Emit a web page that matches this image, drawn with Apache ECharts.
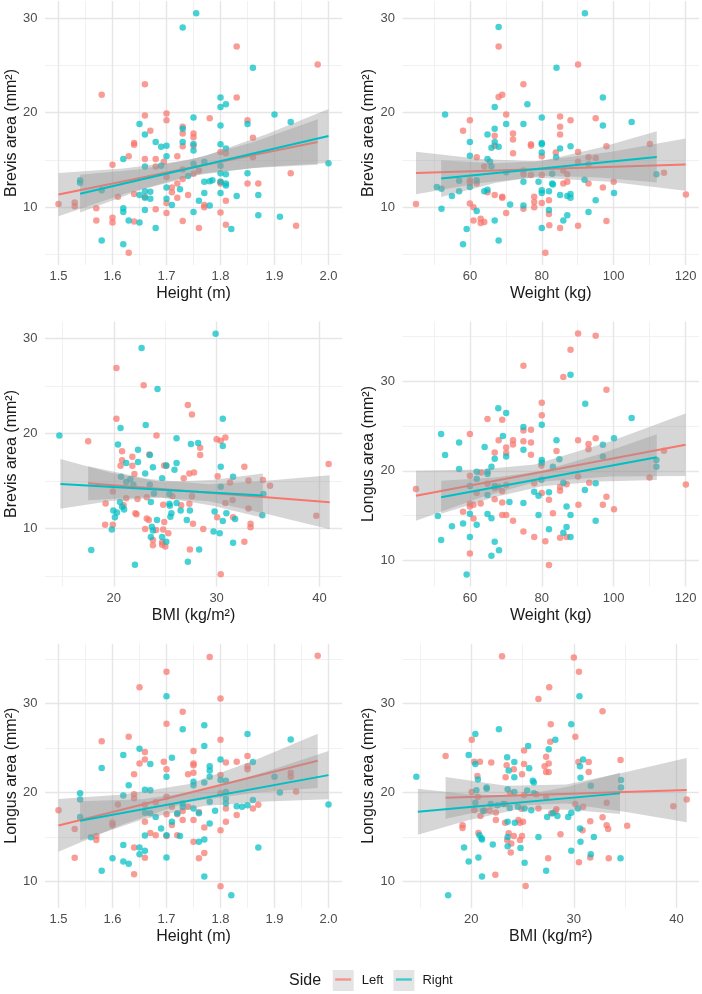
<!DOCTYPE html>
<html>
<head>
<meta charset="utf-8">
<script src="https://cdn.jsdelivr.net/npm/echarts@6/dist/echarts.min.js"></script>
<style>
  html, body { margin: 0; padding: 0; background: #fff; }
  #chart { width: 702px; height: 994px; }
</style>
</head>
<body>
<div id="chart"></div>
<script>
// axis breaks (major = labelled, minor = light lines only)
const heightMajor = [1.5, 1.6, 1.7, 1.8, 1.9, 2.0];
const heightMinor = [1.55, 1.65, 1.75, 1.85, 1.95];
const weightMajor = [60, 80, 100, 120];
const weightMinor = [50, 70, 90, 110];
const bmiMajor = [20, 30, 40];
const bmiMinor = [15, 25, 35];
const brevisMajor = [10, 20, 30];
const brevisMinor = [5, 15, 25];
const longusMajor = [10, 20, 30];
const longusMinor = [15, 25, 35];

const sides = ['Left', 'Right'];

// ---- Brevis area vs Height ----
const ptsBH_L = [[1.50,10.35],[1.53,10.5],[1.53,10.1],[1.57,9.9],[1.57,8.6],[1.60,8.9],[1.60,8.4],[1.58,21.9],[1.60,14.5],[1.61,11.1],[1.63,15.4],[1.64,16.8],[1.64,16.6],[1.64,11.4],[1.64,8.5],[1.63,5.2],[1.66,23.0],[1.66,19.7],[1.66,15.1],[1.66,11.1],[1.67,18.1],[1.68,15.1],[1.68,14.3],[1.68,9.8],[1.70,19.9],[1.70,19.2],[1.70,13.2],[1.70,10.45],[1.70,9.4],[1.695,14.8],[1.71,12.1],[1.71,11.6],[1.72,15.4],[1.72,12.5],[1.72,11.0],[1.73,18.5],[1.73,17.8],[1.73,16.45],[1.73,14.0],[1.73,13.0],[1.73,8.55],[1.74,11.3],[1.75,17.8],[1.75,17.4],[1.75,16.5],[1.75,13.55],[1.76,13.9],[1.76,7.8],[1.77,10.25],[1.77,10.0],[1.78,19.4],[1.80,15.85],[1.80,12.7],[1.80,12.5],[1.80,9.45],[1.81,10.7],[1.81,8.15],[1.83,27.0],[1.83,21.6],[1.85,19.2],[1.85,12.5],[1.86,17.35],[1.86,15.3],[1.87,12.5],[1.93,13.6],[1.94,8.05],[1.98,25.1],[1.81,15.7]];
const ptsBH_R = [[1.755,30.5],[1.73,29.0],[1.86,24.75],[1.80,21.6],[1.80,20.6],[1.81,20.9],[1.90,19.8],[1.93,19.0],[1.75,19.5],[1.65,18.8],[1.85,18.8],[1.80,18.65],[1.73,18.3],[1.66,17.7],[1.73,16.9],[1.75,16.7],[1.80,16.65],[1.68,16.9],[1.69,16.4],[1.70,16.5],[1.75,16.0],[1.81,16.2],[1.70,15.4],[1.62,15.1],[1.66,14.3],[1.69,14.4],[1.75,14.6],[1.77,14.8],[1.80,14.4],[1.80,13.6],[1.81,13.5],[1.85,13.6],[1.54,12.85],[1.54,12.6],[1.58,11.8],[1.65,11.3],[1.66,11.7],[1.67,11.65],[1.66,11.0],[1.67,10.9],[1.70,12.1],[1.70,10.9],[1.71,10.25],[1.725,11.9],[1.77,12.7],[1.77,11.5],[1.78,12.75],[1.785,12.85],[1.80,12.7],[1.80,11.5],[1.81,12.5],[1.81,12.3],[1.76,10.7],[1.78,10.2],[1.83,11.2],[1.87,11.3],[1.62,9.9],[1.62,9.5],[1.66,9.7],[1.75,9.5],[1.63,8.6],[1.65,8.4],[1.68,7.8],[1.82,7.7],[1.87,9.15],[1.91,9.0],[1.58,6.5],[1.62,6.1],[2.0,14.65],[1.74,13.3]];
const lineBH_L = [[1.5,11.34],[1.98,16.9]];
const lineBH_R = [[1.54,11.44],[2.0,17.54]];
const bandBH_L = [[1.5,9.06,13.62],[1.62,11.37,14.09],[1.74,13.27,14.97],[1.86,14.15,16.87],[1.98,14.5,19.3]];
const bandBH_R = [[1.54,9.44,13.44],[1.655,11.87,14.05],[1.77,13.6,15.38],[1.885,14.29,17.73],[2.0,14.69,20.39]];

// ---- Brevis area vs Weight ----
const ptsBW_L = [[45,10.35],[68,27.0],[90.1,25.1],[74.9,23.0],[69,21.9],[68,21.65],[60,19.2],[58.1,18.1],[70.1,19.8],[85.1,19.6],[88,19.2],[95,19.4],[85.1,18.5],[85.1,17.7],[72,17.8],[72,17.15],[77,16.65],[77,16.5],[66.9,17.55],[66.9,16.5],[98,16.45],[110.1,16.7],[72,15.7],[61.9,15.3],[80,15.4],[83.9,15.8],[90.1,15.85],[93,15.3],[95,15.2],[90.1,14.8],[64,14.3],[74.9,13.9],[77,13.4],[80,13.4],[86,13.9],[87.1,13.5],[93,14.55],[114,13.65],[60,12.85],[60,12.6],[61.9,12.5],[74.9,13.5],[86,12.5],[87.1,12.7],[93,12.5],[100,12.7],[97,12.1],[64.9,11.6],[66.9,11.3],[69,11.1],[69,11.0],[77.9,11.1],[77.9,10.55],[77.9,10.0],[80,10.45],[82,10.75],[60,10.4],[61,10.0],[74.9,9.85],[70.1,9.4],[82,9.3],[61,8.6],[63,8.8],[63,8.35],[64,8.45],[82.1,8.1],[85.1,7.8],[90.1,8.05],[98,8.55],[81,5.2],[120.1,11.35]];
const ptsBW_R = [[92,30.5],[68,29.05],[84.1,24.75],[97,21.6],[66.9,20.6],[76,20.9],[53.1,19.8],[105,19.0],[80,19.5],[70.1,18.8],[74.9,18.8],[97,18.65],[66.9,18.3],[64.9,17.7],[60,16.9],[80,16.8],[80,16.65],[66.9,16.9],[68,16.4],[66,16.3],[88,16.45],[85.1,16.2],[60,15.45],[80,15.8],[64.9,15.1],[65.6,14.8],[84,15.3],[66,14.3],[70.1,13.7],[82.9,13.55],[91.9,12.9],[111.9,13.5],[50.8,12.15],[52.1,11.95],[57,12.8],[61.9,12.85],[60,12.15],[55,11.2],[57,11.7],[64,11.7],[64.9,11.85],[71.2,10.3],[74.9,12.7],[74.9,10.2],[79.1,12.7],[80,11.8],[80,11.5],[82,11.7],[82.9,12.5],[83.1,12.4],[85.1,11.3],[87.1,11.2],[88,11.4],[88,11.0],[100.1,11.5],[95,10.75],[52.1,9.85],[61.9,9.6],[82,9.7],[93,9.5],[86,8.6],[87.1,9.15],[66.9,8.6],[80,7.8],[59.1,7.7],[68,6.5],[58.1,6.1]];
const lineBW_L = [[45,13.62],[120,14.51]];
const lineBW_R = [[52,13.03],[112,15.32]];
const bandBW_L = [[45,11.38,15.86],[63,12.56,15.1],[78,13.16,14.86],[99,12.69,15.83],[120,11.74,17.28]];
const bandBW_R = [[52,11.09,14.97],[67,12.56,14.64],[80,13.32,14.88],[96,13.14,16.28],[112,12.61,18.03]];

// ---- Brevis area vs BMI ----
const ptsBB_L = [[20.25,26.9],[22.9,25.1],[27.2,23.0],[27.6,22.0],[20.25,21.55],[17.5,19.2],[24.15,19.8],[30.0,19.4],[30.4,19.25],[30.85,19.6],[28.4,18.5],[28.4,17.75],[20.8,18.15],[20.8,17.2],[21.8,17.55],[23.45,17.8],[20.65,16.6],[21.8,16.6],[24.9,16.65],[25.1,16.6],[32.7,16.5],[40.9,16.8],[22.0,15.75],[27.35,15.8],[27.8,15.9],[26.8,15.3],[30.1,15.5],[31.3,14.85],[33.1,15.05],[35.2,14.5],[34.5,15.1],[19.9,13.9],[21.2,13.2],[22.3,13.1],[23.2,13.3],[25.7,13.4],[27.6,13.4],[30.85,12.7],[31.55,13.0],[33.1,12.1],[19.2,12.65],[20.95,12.45],[24.8,12.5],[26.55,12.45],[27.35,12.6],[22.1,11.6],[22.2,11.5],[23.2,11.05],[23.4,10.9],[24.9,10.7],[30.05,11.2],[31.6,11.2],[39.7,11.35],[19.15,10.4],[19.9,10.4],[27.7,10.5],[28.7,9.95],[33.3,10.5],[33.3,10.15],[23.05,9.95],[24.1,9.85],[24.8,9.9],[25.3,9.5],[23.8,8.8],[23.8,8.25],[24.7,8.55],[24.7,8.3],[25.0,8.1],[32.7,8.6],[27.4,7.8],[30.4,5.2]];
const ptsBB_R = [[29.9,30.5],[22.7,29.0],[24.25,24.7],[23.1,20.9],[20.65,20.6],[14.7,19.8],[30.6,21.55],[26.1,19.5],[20.4,18.85],[22.35,18.3],[27.5,18.9],[28.2,19.0],[30.6,18.7],[23.5,17.75],[21.2,16.9],[22.35,17.0],[23.8,16.45],[25.1,16.65],[26.1,16.9],[25.9,16.2],[30.4,16.5],[23.05,15.8],[20.7,15.45],[21.6,15.2],[24.7,15.3],[31.6,15.45],[21.2,14.9],[21.9,14.6],[23.5,14.6],[30.4,14.4],[23.9,13.7],[25.4,13.65],[34.55,13.65],[20.6,12.8],[23.6,12.8],[26.1,12.7],[25.4,12.6],[20.8,12.3],[21.0,12.0],[25.45,12.4],[26.5,11.9],[27.4,11.9],[29.8,11.8],[19.95,11.9],[20.3,11.7],[25.6,11.6],[25.5,11.25],[30.95,11.6],[34.45,11.4],[20.1,11.2],[24.2,10.9],[27.1,10.9],[30.6,10.8],[31.8,11.0],[19.8,9.9],[23.7,10.2],[23.8,9.8],[23.6,9.1],[24.7,9.1],[25.1,8.6],[29.7,9.7],[30.3,9.5],[31.6,8.5],[28.3,7.8],[17.8,7.75],[27.2,6.5],[22.05,6.2]];
const lineBB_L = [[17.5,14.77],[41,12.77]];
const lineBB_R = [[14.8,14.7],[34.5,13.47]];
const bandBB_L = [[17.5,12.97,16.57],[23.4,13.33,15.21],[29.25,12.87,14.67],[35.1,11.48,15.06],[41,9.92,15.62]];
const bandBB_R = [[14.8,12.08,17.32],[19.7,12.9,15.88],[24.6,13.29,14.89],[29.5,12.44,15.12],[34.5,11.14,15.8]];

// ---- Longus area vs Weight ----
const ptsLW_L = [[90.1,35.35],[95,35.1],[88,33.55],[74.9,31.75],[86,30.5],[98,29.05],[80,27.6],[80,26.2],[64.9,25.8],[69,25.7],[74.9,24.5],[77,24.6],[60,24.1],[95,23.65],[90.1,23.4],[72,23.4],[72,22.95],[68,23.4],[74.9,23.3],[77,23.15],[84.1,22.2],[93,23.0],[93,22.4],[114,22.25],[66.9,22.05],[70.1,22.6],[70.1,22.0],[77,21.8],[79.9,20.6],[63.1,19.8],[60,19.45],[90.1,19.35],[110,19.25],[64.9,18.55],[68,18.2],[70.1,18.4],[77.9,18.6],[86.9,18.5],[93.2,18.65],[120.1,18.45],[61.9,17.5],[66.9,18.05],[69,17.7],[80,17.5],[85.1,18.2],[85.1,17.75],[98,17.1],[82,16.75],[66.9,16.8],[60,16.3],[60,16.0],[63,16.35],[61,16.2],[69,16.45],[90.2,16.2],[97,16.2],[100.1,15.7],[58.1,15.4],[69,15.05],[70.1,15.05],[83.1,15.25],[61,14.65],[72,14.4],[74.9,13.2],[77.9,12.6],[81,12.1],[85.1,12.5],[86.9,12.6],[60,10.75],[82,9.45],[45,17.95]];
const ptsLW_R = [[88,30.75],[92.1,27.5],[67.9,27.0],[70.1,26.45],[105,25.9],[52,24.1],[74.9,24.9],[80,25.15],[57,23.15],[64.1,22.65],[84.1,23.4],[100.1,23.65],[97,22.9],[69.2,23.9],[53.1,21.75],[74.9,22.35],[70.1,21.6],[66.9,21.35],[84.9,21.3],[80,21.2],[80,20.9],[97,21.6],[111.9,21.2],[111.9,20.45],[57,20.2],[61.9,19.9],[64.9,19.9],[66,20.45],[64.9,19.65],[83.1,20.45],[79.9,19.0],[86,18.65],[95,18.6],[92,17.85],[61.9,19.1],[60,18.3],[64.9,17.3],[77.9,17.65],[79.1,17.2],[82,17.6],[66.9,18.3],[74.9,16.4],[71,16.5],[86.9,16.0],[88,15.05],[51.1,14.95],[60,15.2],[64.9,15.15],[66,14.7],[58.1,14.1],[55,13.8],[61.9,13.95],[82,13.45],[79.1,15.05],[95,14.4],[86.9,13.7],[86,13.05],[66.9,12.05],[52,12.25],[60,12.6],[88,12.6],[68.1,11.1],[66,10.5],[59.1,8.4]];
const lineLW_L = [[45,17.21],[120,22.9]];
const lineLW_R = [[52,17.03],[112,21.52]];
const bandLW_L = [[45,14.41,20.01],[63,17.02,20.14],[78,18.71,20.71],[99,19.36,23.26],[120,19.4,26.4]];
const bandLW_R = [[52,15.18,18.88],[67,17.05,19.25],[80,18.26,19.98],[96,18.79,21.85],[112,18.96,24.08]];

// ---- Longus area vs Height ----
const ptsLH_L = [[1.50,18.0],[1.53,15.9],[1.53,12.65],[1.57,15.1],[1.57,14.65],[1.58,25.75],[1.60,16.6],[1.60,16.3],[1.61,18.65],[1.63,26.25],[1.64,22.05],[1.64,19.8],[1.64,19.35],[1.64,13.8],[1.64,10.8],[1.65,23.25],[1.65,31.8],[1.66,24.55],[1.66,23.7],[1.66,18.6],[1.66,16.7],[1.66,12.65],[1.67,15.45],[1.68,15.2],[1.68,18.9],[1.695,23.45],[1.70,33.55],[1.70,27.7],[1.70,22.6],[1.70,19.5],[1.70,17.55],[1.70,15.1],[1.71,18.4],[1.71,16.35],[1.72,17.55],[1.72,15.2],[1.73,29.05],[1.73,17.9],[1.73,16.9],[1.74,22.05],[1.74,18.4],[1.75,24.65],[1.75,23.25],[1.75,23.05],[1.75,22.2],[1.75,16.9],[1.75,14.45],[1.76,17.8],[1.76,12.6],[1.77,16.05],[1.77,13.2],[1.78,35.2],[1.80,30.55],[1.80,25.9],[1.80,21.95],[1.80,19.9],[1.80,15.75],[1.80,9.45],[1.81,23.35],[1.81,18.2],[1.81,16.7],[1.83,23.45],[1.83,17.45],[1.85,24.1],[1.85,22.95],[1.85,22.6],[1.86,18.2],[1.87,18.6],[1.93,22.2],[1.93,21.75],[1.94,20.1],[1.98,35.35]];
const ptsLH_R = [[1.70,30.8],[1.77,27.55],[1.73,27.1],[1.85,26.55],[1.93,25.95],[1.65,24.9],[1.77,25.2],[1.62,24.2],[1.71,23.9],[1.67,23.2],[1.58,22.75],[1.80,23.7],[1.78,22.95],[1.78,22.45],[1.86,23.4],[1.70,21.75],[1.78,21.75],[1.75,21.2],[1.75,20.8],[1.63,20.8],[1.80,21.4],[1.81,21.3],[1.90,21.75],[1.77,21.1],[1.54,19.9],[1.54,19.2],[1.62,19.65],[1.66,20.3],[1.67,20.25],[1.91,20.0],[1.81,20.05],[1.81,19.3],[1.86,19.15],[1.78,18.95],[1.75,18.2],[1.73,18.75],[1.73,18.4],[1.84,18.4],[1.83,18.45],[1.85,18.55],[1.81,18.75],[2.0,18.65],[1.54,17.25],[1.66,17.7],[1.67,17.65],[1.68,17.25],[1.72,17.65],[1.79,17.95],[1.76,17.65],[1.71,16.7],[1.69,15.95],[1.78,16.5],[1.56,14.95],[1.66,15.15],[1.70,15.2],[1.725,15.1],[1.77,14.7],[1.76,14.45],[1.65,13.8],[1.66,13.45],[1.87,13.8],[1.62,14.1],[1.65,13.05],[1.60,12.6],[1.62,12.25],[1.63,12.0],[1.70,12.7],[1.58,11.2],[1.77,10.55],[1.82,8.45]];
const lineLH_L = [[1.5,16.29],[1.98,23.55]];
const lineLH_R = [[1.54,16.81],[2.0,21.94]];
const bandLH_L = [[1.5,13.33,19.25],[1.62,16.43,19.77],[1.74,18.91,20.91],[1.86,19.94,23.54],[1.98,20.5,26.6]];
const bandLH_R = [[1.54,14.61,19.01],[1.655,16.95,19.23],[1.77,18.48,20.26],[1.885,18.98,22.34],[2.0,19.24,24.64]];

// ---- Longus area vs BMI ----
const ptsLB_L = [[23.0,35.3],[30.0,35.15],[30.5,33.55],[27.6,31.8],[26.55,30.5],[30.15,26.25],[27.75,27.65],[32.8,29.1],[20.05,25.9],[17.5,24.1],[25.15,24.7],[27.7,25.7],[20.3,23.45],[20.85,23.45],[21.95,23.35],[23.45,23.05],[25.15,23.2],[27.3,24.0],[27.15,22.95],[27.3,22.3],[27.55,22.3],[27.55,23.25],[30.45,23.4],[31.45,23.4],[31.45,22.3],[34.55,23.65],[20.6,21.85],[24.15,22.6],[24.95,22.05],[23.35,21.7],[20.05,20.05],[20.65,19.5],[23.8,19.9],[25.15,19.7],[26.35,19.8],[27.3,19.5],[30.15,18.7],[30.9,18.4],[33.2,18.85],[39.7,18.45],[41.0,19.2],[20.3,18.0],[21.3,17.95],[21.8,17.95],[22.4,17.75],[24.9,18.15],[23.3,18.7],[26.55,18.2],[27.8,17.65],[28.2,17.85],[28.3,18.1],[20.9,17.35],[22.4,16.9],[23.3,16.6],[24.6,16.9],[24.75,16.6],[25.05,16.7],[31.6,16.75],[32.8,17.2],[33.2,16.3],[33.35,15.9],[35.2,16.25],[19.15,16.3],[19.15,16.0],[20.7,15.45],[23.65,15.4],[23.5,14.65],[24.95,15.1],[24.75,14.65],[28.7,15.3],[30.85,15.75],[24.15,15.1],[23.85,13.25],[23.9,14.25],[27.5,12.6],[30.5,12.15],[31.6,12.7],[33.4,12.6],[22.35,10.75],[25.3,9.5]];
const ptsLB_R = [[30.55,30.8],[22.7,27.1],[29.75,27.65],[20.4,26.55],[25.55,25.2],[27.55,24.85],[28.2,25.9],[19.75,24.2],[20.4,23.2],[23.5,23.95],[24.2,23.4],[30.9,23.7],[30.6,22.95],[23.65,22.45],[25.65,22.7],[20.65,21.45],[24.2,21.7],[26.0,21.3],[26.1,21.1],[30.65,21.65],[31.65,20.75],[34.6,21.4],[34.6,20.55],[14.65,21.75],[20.5,20.25],[21.5,20.55],[21.5,20.4],[23.55,20.35],[24.2,20.05],[25.45,20.2],[26.1,19.9],[20.4,18.85],[21.9,18.7],[22.55,18.55],[23.1,18.7],[23.75,18.25],[24.55,18.4],[25.2,18.2],[25.85,18.0],[21.15,17.95],[27.4,17.25],[27.95,17.65],[28.4,17.35],[29.45,17.25],[29.75,17.7],[30.4,18.2],[23.55,16.7],[24.25,16.6],[26.55,15.0],[20.8,15.2],[21.0,14.85],[21.05,14.7],[23.55,15.0],[23.55,13.95],[22.1,14.15],[24.8,13.75],[30.6,15.95],[30.65,14.45],[31.95,15.0],[19.3,13.8],[29.75,13.45],[31.65,13.05],[19.75,12.25],[20.7,12.7],[25.2,12.1],[27.3,11.2],[21.05,10.55],[34.55,12.6],[17.75,8.45]];
const lineLB_L = [[17.5,19.39],[41,20.26]];
const lineLB_R = [[14.8,17.82],[34.5,19.89]];
const bandLB_L = [[17.5,17.04,21.74],[23.4,18.48,20.74],[29.25,18.74,20.9],[35.1,17.8,22.28],[41,16.66,23.86]];
const bandLB_R = [[14.8,15.24,20.4],[19.7,16.87,19.79],[24.6,18.1,19.6],[29.5,18.05,20.67],[34.5,17.57,22.21]];

const COLORS = { Left: '#F8766D', Right: '#00BFC4' };
const FONT = '"Liberation Sans", Arial, Helvetica, sans-serif';

const xAxes = {
  height: { name: 'Height (m)', min: 1.475, max: 2.025, major: heightMajor, minor: heightMinor,
            fmt: v => (Math.abs(v * 10 - Math.round(v * 10)) < 1e-6 ? v.toFixed(1) : '') },
  weight: { name: 'Weight (kg)', min: 41.25, max: 123.75, major: weightMajor, minor: weightMinor,
            fmt: v => (Math.abs(v % 20) < 1e-6 ? String(v) : '') },
  bmi:    { name: 'BMI (kg/m²)', min: 13.3, max: 42.2, major: bmiMajor, minor: bmiMinor,
            fmt: v => (Math.abs(v % 10) < 1e-6 ? String(v) : '') }
};
const yAxes = {
  brevis: { name: 'Brevis area (mm²)', min: 3.9, max: 31.8, major: brevisMajor, minor: brevisMinor },
  longus: { name: 'Longus area (mm²)', min: 7.05, max: 36.7, major: longusMajor, minor: longusMinor }
};

const panels = [
  { x: 'height', y: 'brevis', pos: { left: 45, top: 1, width: 297, height: 264 },
    pts: [ptsBH_L, ptsBH_R], lines: [lineBH_L, lineBH_R], bands: [bandBH_L, bandBH_R] },
  { x: 'weight', y: 'brevis', pos: { left: 402.5, top: 1, width: 297, height: 264 },
    pts: [ptsBW_L, ptsBW_R], lines: [lineBW_L, lineBW_R], bands: [bandBW_L, bandBW_R] },
  { x: 'bmi', y: 'brevis', pos: { left: 45, top: 321.5, width: 297, height: 265 },
    pts: [ptsBB_L, ptsBB_R], lines: [lineBB_L, lineBB_R], bands: [bandBB_L, bandBB_R] },
  { x: 'weight', y: 'longus', pos: { left: 402.5, top: 321.5, width: 297, height: 265 },
    pts: [ptsLW_L, ptsLW_R], lines: [lineLW_L, lineLW_R], bands: [bandLW_L, bandLW_R] },
  { x: 'height', y: 'longus', pos: { left: 45, top: 643.7, width: 297, height: 264 },
    pts: [ptsLH_L, ptsLH_R], lines: [lineLH_L, lineLH_R], bands: [bandLH_L, bandLH_R] },
  { x: 'bmi', y: 'longus', pos: { left: 402.5, top: 643.7, width: 297, height: 264 },
    pts: [ptsLB_L, ptsLB_R], lines: [lineLB_L, lineLB_R], bands: [bandLB_L, bandLB_R] }
];

const majorLine = { color: '#e6e6e6', width: 1.4, type: 'solid' };
const minorLine = { color: '#efefef', width: 0.9, type: 'solid' };

function gridLines(xa, ya) {
  const d = [];
  xa.minor.forEach(v => d.push({ xAxis: v, lineStyle: minorLine }));
  ya.minor.forEach(v => d.push({ yAxis: v, lineStyle: minorLine }));
  xa.major.forEach(v => d.push({ xAxis: v, lineStyle: majorLine }));
  ya.major.forEach(v => d.push({ yAxis: v, lineStyle: majorLine }));
  return d;
}

function bandSeries(band, gi, z) {
  return {
    type: 'custom', name: 'band', xAxisIndex: gi, yAxisIndex: gi, z: z, silent: true,
    data: band,
    renderItem: function (params, api) {
      if (params.dataIndex !== 0) return null;
      const top = band.map(b => api.coord([b[0], b[2]]));
      const bot = band.map(b => api.coord([b[0], b[1]])).reverse();
      return { type: 'polygon', shape: { points: top.concat(bot) },
               style: { fill: 'rgba(153,153,153,0.4)' } };
    }
  };
}

const grid = [], xAxis = [], yAxis = [], series = [];
panels.forEach((p, i) => {
  const xa = xAxes[p.x], ya = yAxes[p.y];
  grid.push(Object.assign({ containLabel: false }, p.pos));
  xAxis.push({
    type: 'value', gridIndex: i, min: xa.min, max: xa.max,
    name: xa.name, nameLocation: 'middle', nameGap: 21,
    nameTextStyle: { fontFamily: FONT, fontSize: 16, color: '#1a1a1a' },
    axisLine: { show: false }, axisTick: { show: false }, splitLine: { show: false },
    axisLabel: { interval: 0, margin: 5, fontFamily: FONT, fontSize: 13, color: '#4d4d4d', formatter: xa.fmt,
                 showMinLabel: true, showMaxLabel: true }
  });
  yAxis.push({
    type: 'value', gridIndex: i, min: ya.min, max: ya.max,
    name: ya.name, nameLocation: 'middle', nameGap: 24, nameRotate: 90,
    nameTextStyle: { fontFamily: FONT, fontSize: 16, color: '#1a1a1a' },
    axisLine: { show: false }, axisTick: { show: false }, splitLine: { show: false },
    axisLabel: { interval: 0, margin: 7.5, fontFamily: FONT, fontSize: 13, color: '#4d4d4d',
                 formatter: v => (Math.abs(v % 10) < 1e-6 && v > 0 ? String(v) : '') }
  });
  // panel grid lines
  series.push({
    type: 'line', name: 'grid', xAxisIndex: i, yAxisIndex: i, data: [], silent: true,
    markLine: { silent: true, z: 0, symbol: ['none', 'none'], label: { show: false },
                emphasis: { disabled: true }, data: gridLines(xa, ya) }
  });
  // points
  sides.forEach((s, k) => {
    series.push({
      type: 'scatter', name: s, xAxisIndex: i, yAxisIndex: i, z: 2,
      symbolSize: 6.5, data: p.pts[k],
      itemStyle: { color: COLORS[s], opacity: 0.72 }, silent: true
    });
  });
  // smooth: ribbon + fit line per side
  sides.forEach((s, k) => {
    series.push(bandSeries(p.bands[k], i, 3 + k * 2));
    series.push({
      type: 'line', name: s, xAxisIndex: i, yAxisIndex: i, z: 4 + k * 2,
      data: p.lines[k], showSymbol: false, silent: true,
      lineStyle: { color: COLORS[s], width: 2 }, itemStyle: { color: COLORS[s] }
    });
  });
});

const chart = echarts.init(document.getElementById('chart'), null, { renderer: 'canvas' });
chart.setOption({
  backgroundColor: '#ffffff',
  animation: false,
  textStyle: { fontFamily: FONT },
  title: { text: 'Side', left: 289, top: 972.5, padding: 0,
           textStyle: { fontFamily: FONT, fontSize: 16, fontWeight: 'normal', color: '#1a1a1a' } },
  legend: [
    { left: 332.7, top: 970, orient: 'horizontal', itemWidth: 21, itemHeight: 21, itemGap: 10,
      selectedMode: false, padding: 0,
      textStyle: { fontFamily: FONT, fontSize: 13, color: '#1a1a1a', padding: [0, 0, 0, 3] },
      data: sides.map(s => ({ name: s, icon: 'rect', itemStyle: { color: '#d9d9d9', borderWidth: 0 } })) },
    { left: 335.2, top: 973, orient: 'horizontal', itemWidth: 16, itemHeight: 2.4, itemGap: 15,
      selectedMode: false, padding: 0,
      textStyle: { fontFamily: FONT, fontSize: 13, color: 'rgba(0,0,0,0)', padding: [0, 0, 0, 3] },
      data: sides.map(s => ({ name: s, icon: 'rect', itemStyle: { color: COLORS[s], borderWidth: 0 } })) }
  ],
  grid: grid, xAxis: xAxis, yAxis: yAxis, series: series
});
</script>
</body>
</html>
